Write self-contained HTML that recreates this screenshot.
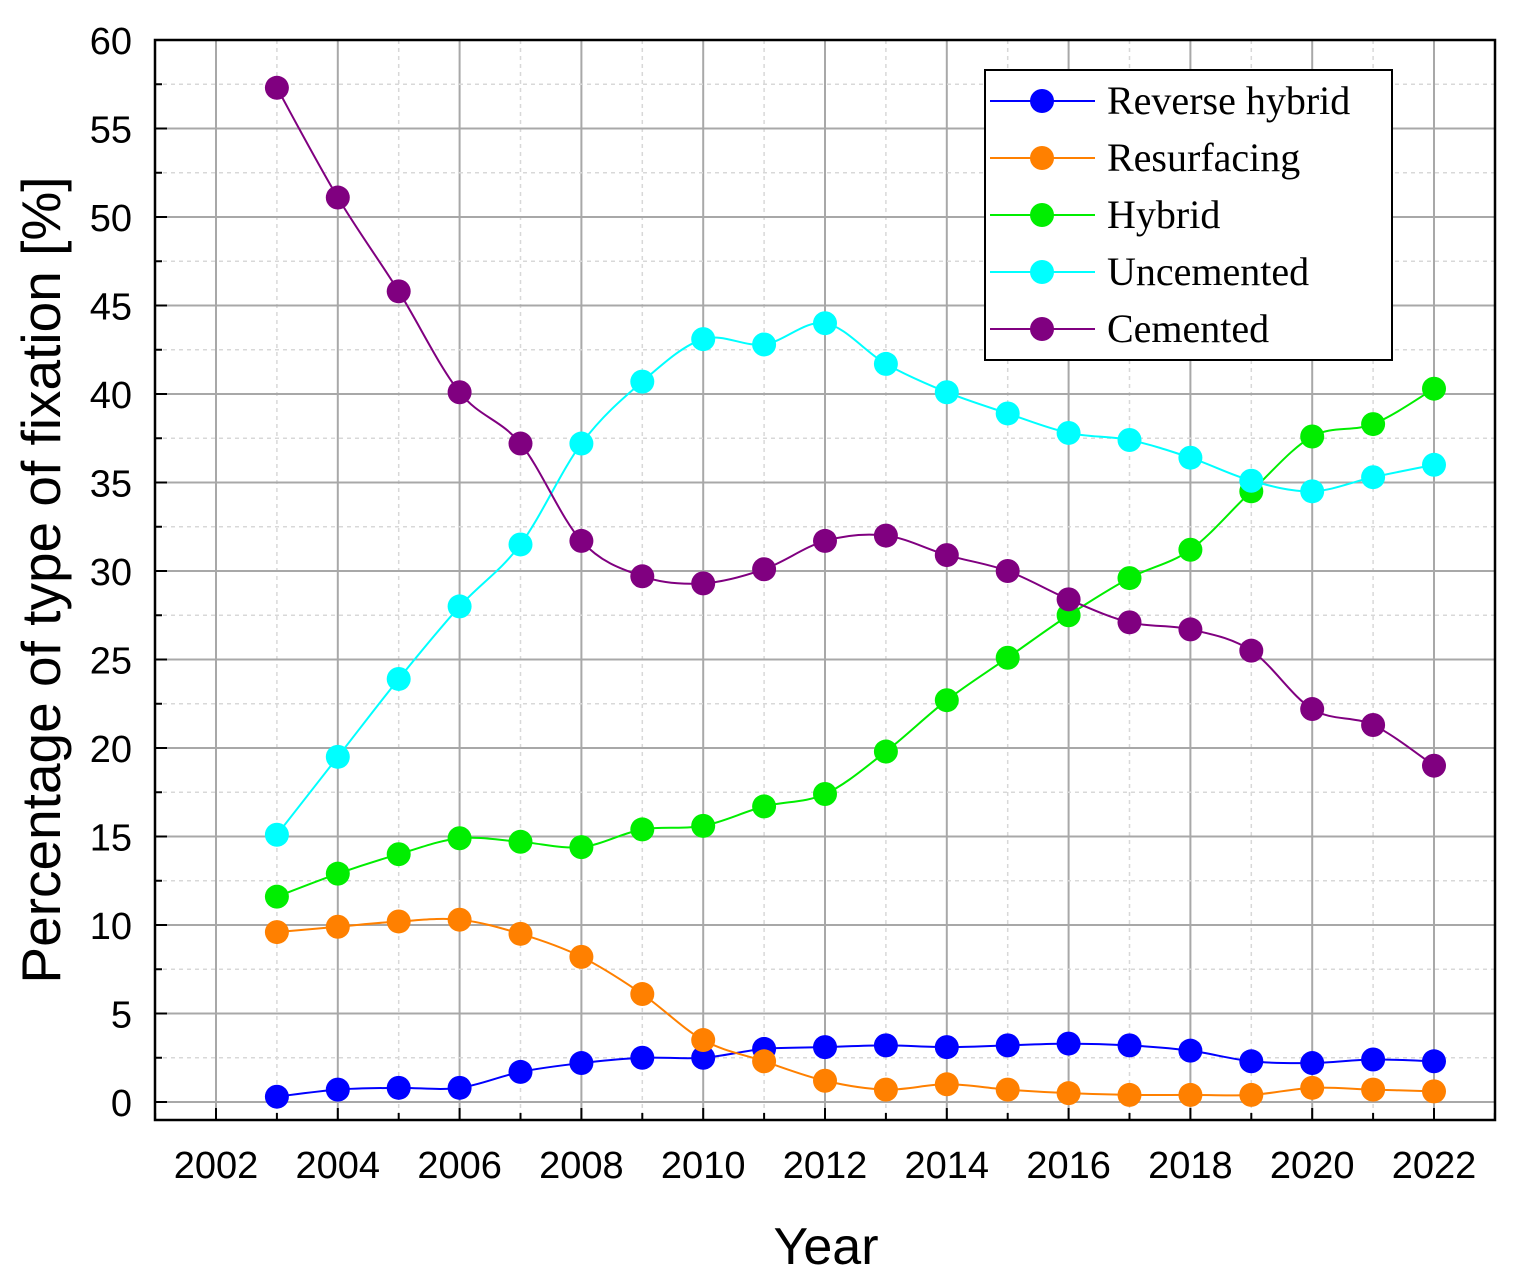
<!DOCTYPE html>
<html><head><meta charset="utf-8"><style>
body{margin:0;background:#fff;}
svg{display:block;}
text{font-family:"Liberation Sans",sans-serif;}
</style></head><body>
<svg id="chart" width="1515" height="1282" viewBox="0 0 1515 1282">
<g id="grid"></g>
<g id="series"></g>
<rect x="155" y="40" width="1340" height="1080" fill="none" stroke="#000" stroke-width="2.5"/>
<g id="ticks"></g>
<text x="826" y="1264" font-size="52" text-anchor="middle">Year</text>
<text transform="translate(60,580) rotate(-90)" font-size="55" text-anchor="middle">Percentage of type of fixation [%]</text>
<g id="legend"></g>
</svg>
<script>
const years=[2003,2004,2005,2006,2007,2008,2009,2010,2011,2012,2013,2014,2015,2016,2017,2018,2019,2020,2021,2022];
const reverseHybrid=[0.3,0.7,0.8,0.8,1.7,2.2,2.5,2.5,3.0,3.1,3.2,3.1,3.2,3.3,3.2,2.9,2.3,2.2,2.4,2.3];
const resurfacing=[9.6,9.9,10.2,10.3,9.5,8.2,6.1,3.5,2.3,1.2,0.7,1.0,0.7,0.5,0.4,0.4,0.4,0.8,0.7,0.6];
const hybrid=[11.6,12.9,14.0,14.9,14.7,14.4,15.4,15.6,16.7,17.4,19.8,22.7,25.1,27.5,29.6,31.2,34.5,37.6,38.3,40.3];
const uncemented=[15.1,19.5,23.9,28.0,31.5,37.2,40.7,43.1,42.8,44.0,41.7,40.1,38.9,37.8,37.4,36.4,35.1,34.5,35.3,36.0];
const cemented=[57.3,51.1,45.8,40.1,37.2,31.7,29.7,29.3,30.1,31.7,32.0,30.9,30.0,28.4,27.1,26.7,25.5,22.2,21.3,19.0];
const seriesNames=["Reverse hybrid","Resurfacing","Hybrid","Uncemented","Cemented"];
const xTicks=[2002,2004,2006,2008,2010,2012,2014,2016,2018,2020,2022];
const yTicks=[0,5,10,15,20,25,30,35,40,45,50,55,60];

const NS="http://www.w3.org/2000/svg";
const X=v=>216+(v-2002)*60.9;
const Y=v=>1102-v*17.7;
function mk(tag,attrs,parent){const e=document.createElementNS(NS,tag);for(const k in attrs)e.setAttribute(k,attrs[k]);parent.appendChild(e);return e;}
const grid=document.getElementById('grid'),ticks=document.getElementById('ticks');
for(let yr=2001;yr<=2023;yr++){const major=yr%2===0;
 const l=mk('line',{x1:X(yr),x2:X(yr),y1:40,y2:1120,stroke:major?'#a8a8a8':'#d8d8d8','stroke-width':major?2:1.5,'stroke-dasharray':major?'':'4,4'},grid);
 
 
 const t=mk('line',{x1:X(yr),x2:X(yr),y1:1120,y2:major?1108:1113,stroke:'#000','stroke-width':2},ticks);
 
 }
for(let v=0;v<=60;v+=2.5){const major=v%5===0;
 const l=mk('line',{x1:155,x2:1495,y1:Y(v),y2:Y(v),stroke:major?'#a8a8a8':'#d8d8d8','stroke-width':major?2:1.5,'stroke-dasharray':major?'':'4,4'},grid);
 
 
 const t=mk('line',{x1:155,x2:major?167:162,y1:Y(v),y2:Y(v),stroke:'#000','stroke-width':2},ticks);
 
 }
xTicks.forEach(v=>{const t=mk('text',{x:X(v),y:1178,'font-size':38,'text-anchor':'middle'},ticks);t.textContent=v;
 
 });
yTicks.forEach(v=>{const t=mk('text',{x:132,y:Y(v)+14,'font-size':38,'text-anchor':'end'},ticks);t.textContent=v;
 
 });
function spline(pts){let d=`M${pts[0][0]},${pts[0][1]}`;for(let i=0;i<pts.length-1;i++){const p0=pts[i-1]||pts[i],p1=pts[i],p2=pts[i+1],p3=pts[i+2]||p2;
 d+=` C${p1[0]+(p2[0]-p0[0])/6},${p1[1]+(p2[1]-p0[1])/6} ${p2[0]-(p3[0]-p1[0])/6},${p2[1]-(p3[1]-p1[1])/6} ${p2[0]},${p2[1]}`;}return d;}
const data=[reverseHybrid,resurfacing,hybrid,uncemented,cemented];
const colors=["#0000ff","#ff8000","#00ee00","#00ffff","#800080"];
const sg=document.getElementById('series'),lg=document.getElementById('legend');
data.forEach((vals,s)=>{const g=mk('g',{},sg);
 
 
 const pts=vals.map((v,i)=>[X(years[i]),Y(v)]);
 const p=mk('path',{d:spline(pts),fill:'none',stroke:colors[s],'stroke-width':2},g);
 
 
 pts.forEach(q=>{const c=mk('circle',{cx:q[0],cy:q[1],r:12,fill:colors[s]},g);
  
  });});
const box=mk('rect',{x:985,y:70,width:407,height:290,fill:'#fff',stroke:'#000','stroke-width':2},lg);


seriesNames.forEach((n,s)=>{const y=101+s*57;const g=mk('g',{},lg);
 
 
 mk('line',{x1:990,x2:1095,y1:y,y2:y,stroke:colors[s],'stroke-width':2},g);
 mk('circle',{cx:1042,cy:y,r:12,fill:colors[s]},g);
 const t=mk('text',{x:1107,y:y+13,'font-size':40,style:'font-family:"Liberation Serif",serif'},g);t.textContent=n;});
</script>
</body></html>
